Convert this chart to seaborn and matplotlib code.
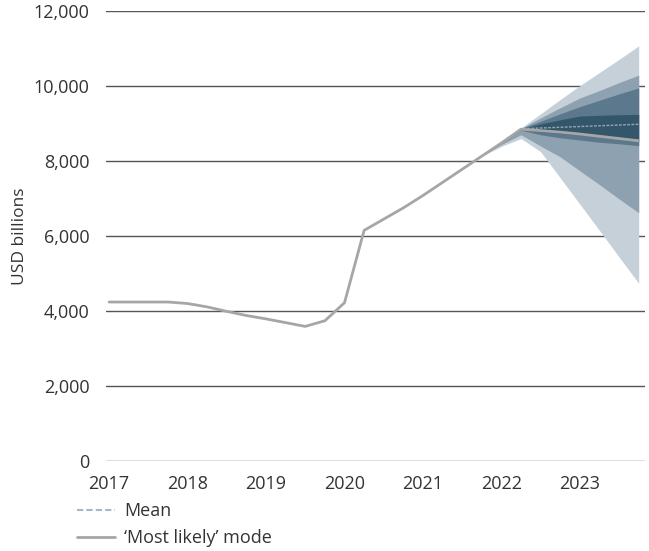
import numpy as np
import pandas as pd
import seaborn as sns
import matplotlib.pyplot as plt
from matplotlib.lines import Line2D
from matplotlib.ticker import FuncFormatter

# history + 'most likely' mode, quarterly
years = [2017.0, 2017.25, 2017.5, 2017.75, 2018.0, 2018.25, 2018.5, 2018.75,
         2019.0, 2019.25, 2019.5, 2019.75, 2020.0, 2020.25, 2020.5, 2020.75,
         2021.0, 2021.25, 2021.5, 2021.75, 2022.0, 2022.25, 2022.5, 2022.75,
         2023.0, 2023.25, 2023.5, 2023.75]
mode_vals = [4240, 4240, 4240, 4240, 4200, 4110, 3990, 3880,
             3790, 3690, 3590, 3740, 4220, 6150, 6450, 6750,
             7080, 7430, 7780, 8130, 8480, 8850, 8810, 8770,
             8720, 8660, 8600, 8540]

# fan chart quantile bands
fan_years = [2021.75, 2022.0, 2022.25, 2022.5, 2022.75, 2023.0, 2023.25, 2023.5, 2023.75]
mean_vals = [8130, 8480, 8860, 8880, 8900, 8920, 8940, 8960, 8980]
light_lo = [8130, 8390, 8600, 8250, 7550, 6850, 6150, 5440, 4740]
light_hi = [8130, 8500, 8880, 9260, 9640, 10010, 10360, 10710, 11070]
midlight_lo = [8130, 8440, 8700, 8400, 8110, 7740, 7370, 6990, 6620]
midlight_hi = [8130, 8490, 8870, 9150, 9420, 9680, 9880, 10090, 10290]
middark_lo = [8130, 8470, 8820, 8700, 8620, 8560, 8500, 8460, 8410]
middark_hi = [8130, 8485, 8865, 9060, 9260, 9450, 9620, 9790, 9950]
dark_lo = [8130, 8478, 8840, 8780, 8740, 8700, 8660, 8620, 8580]
dark_hi = [8130, 8482, 8860, 8990, 9100, 9200, 9220, 9235, 9245]

band_colors = ["#c5d0d9", "#8da1b1", "#5c788c", "#34566b"]
text_color = "#333333"

sns.set_style("white")
plt.rcParams['font.family'] = ['Open Sans', 'DejaVu Sans']

fig = plt.figure(figsize=(6.49, 5.51), dpi=100)
ax = fig.add_axes([0.1633, 0.1633, 0.8305, 0.8167])

bands = [(light_lo, light_hi), (midlight_lo, midlight_hi),
         (middark_lo, middark_hi), (dark_lo, dark_hi)]
for (lo, hi), c in zip(bands, band_colors):
    ax.fill_between(fan_years, lo, hi, color=c, linewidth=0, zorder=2)

fan_df = pd.DataFrame({"year": fan_years, "value": mean_vals})
sns.lineplot(data=fan_df, x="year", y="value", ax=ax, color="#8fa6b8",
             linestyle=(0, (2, 1)), linewidth=1.0, zorder=4)

hist_df = pd.DataFrame({"year": years, "value": mode_vals})
sns.lineplot(data=hist_df, x="year", y="value", ax=ax, color="#a6a6a6",
             linewidth=2.0, zorder=5)

ax.set_xlim(2016.96, 2023.83)
ax.set_ylim(0, 12000)
ax.set_yticks(np.arange(0, 12001, 2000))
ax.set_xticks(range(2017, 2024))
ax.yaxis.set_major_formatter(FuncFormatter(lambda v, _: f"{int(v):,}"))
ax.grid(axis='y', color="#555555", linewidth=1.0, zorder=1)
ax.grid(axis='x', visible=False)
for s in ax.spines.values():
    s.set_visible(False)
ax.tick_params(axis='both', length=0, labelsize=13, colors=text_color)
ax.tick_params(axis='y', pad=12)
ax.tick_params(axis='x', pad=10)
ax.set_xlabel("")
ax.set_ylabel("USD billions", fontsize=12.5, color=text_color, labelpad=4)

handles = [Line2D([], [], color="#a3b8c9", linestyle=(0, (3, 1.5)), linewidth=1.5),
           Line2D([], [], color="#a6a6a6", linewidth=2.0)]
fig.legend(handles, ["Mean", "\u2018Most likely\u2019 mode"], loc="upper left",
           bbox_to_anchor=(0.094, 0.118), frameon=False, fontsize=13,
           handlelength=2.1, handletextpad=0.5, labelspacing=0.5,
           labelcolor=text_color)

fig.savefig("out.png", dpi=100)
